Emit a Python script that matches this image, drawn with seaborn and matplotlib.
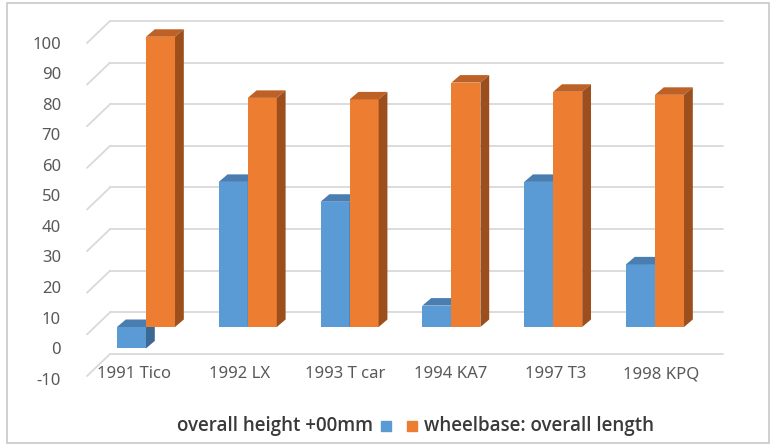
import numpy as np
import pandas as pd
import matplotlib
matplotlib.use("Agg")
import matplotlib.pyplot as plt
from matplotlib.patches import Polygon, Rectangle
import seaborn as sns

# data
models = ['1991 Tico', '1992 LX', '1993 T car', '1994 KA7', '1997 T3', '1998 KPQ']
height_vals = [-7, 47.5, 41, 7, 47.5, 20.5]
wheelbase_vals = [95, 75, 74.5, 80, 77, 76]
series_names = ['overall height +00mm', 'wheelbase: overall length']
y_ticks = [-10, 0, 10, 20, 30, 40, 50, 60, 70, 80, 90, 100]

blue, orange = '#5B9BD5', '#ED7D31'
top_cols = {blue: '#4A7DB0', orange: '#BE6127'}
side_cols = {blue: '#3C6894', orange: '#9C4F1C'}
grid_col = '#D9D9D9'
text_col = '#595959'

df = pd.DataFrame({
    'model': models * 2,
    'value': height_vals + wheelbase_vals,
    'series': [series_names[0]] * len(models) + [series_names[1]] * len(models),
})

sns.set_theme(style='white')
plt.rcParams['font.family'] = ['Noto Sans', 'DejaVu Sans']
plt.rcParams['axes.unicode_minus'] = False

W, H = 776, 448
fig = plt.figure(figsize=(W / 100, H / 100), dpi=100)

# pixel-space layer for the frame, walls and legend
bg = fig.add_axes([0, 0, 1, 1])
bg.set_xlim(0, W)
bg.set_ylim(H, 0)
bg.axis('off')
bg.add_patch(Rectangle((7, 3), 762, 440, fill=False, ec='#C8C8C8', lw=1.2))
for gy in np.linspace(21, 354, 9):
    bg.plot([110, 723], [gy, gy], color=grid_col, lw=1.3, zorder=0)
    bg.plot([87, 110], [gy + 22, gy], color=grid_col, lw=1.3, zorder=0)

# bar axes: category step 101.8 px, 3.055 px per unit, zero at y=327
ax_top, ax_bot, ax_left, ax_right = 10, 400, 87, 740
step, unit, x0, y0 = 101.8, 3.055, 146, 327
ax = fig.add_axes([ax_left / W, 1 - ax_bot / H, (ax_right - ax_left) / W, (ax_bot - ax_top) / H])
ax.patch.set_alpha(0)

sns.barplot(data=df, x='model', y='value', hue='series', palette=[blue, orange],
            width=0.57, saturation=1, linewidth=0, ax=ax, legend=False)
ax.set_xlim((ax_left - x0) / step, (ax_right - x0) / step)
ax.set_ylim((y0 - ax_bot) / unit, (y0 - ax_top) / unit)

# fake 3D depth on each bar
ddx, ddy = 8.8 / step, 7.5 / unit
for p in ax.patches:
    col = matplotlib.colors.to_hex(p.get_facecolor())
    z = 2 if col.lower() == blue.lower() else 3
    p.set_zorder(z)
    xa, w = p.get_x(), p.get_width()
    ya, yb = sorted([p.get_y(), p.get_y() + p.get_height()])
    xb = xa + w
    top = Polygon([(xa, yb), (xa + ddx, yb + ddy), (xb + ddx, yb + ddy), (xb, yb)],
                  closed=True, fc=top_cols[col.upper()], ec='none', zorder=z)
    side = Polygon([(xb, ya), (xb + ddx, ya + ddy), (xb + ddx, yb + ddy), (xb, yb)],
                   closed=True, fc=side_cols[col.upper()], ec='none', zorder=z)
    ax.add_patch(top)
    ax.add_patch(side)

ax.set_xlabel('')
ax.set_ylabel('')
ax.set_yticks([])
for s in ax.spines.values():
    s.set_visible(False)
ax.tick_params(axis='x', length=0, pad=-(ax_bot - 366) * 0.72, labelsize=12, labelcolor=text_col)
for i, lbl in enumerate(ax.get_xticklabels()):
    shift = (-12 + 3.6 * i) / 100
    lbl.set_transform(lbl.get_transform() + matplotlib.transforms.ScaledTranslation(shift, 0, fig.dpi_scale_trans))

# value axis labels sit on the front edge, offset from the bar plane
axl = ax.twinx()
axl.yaxis.tick_left()
axl.set_ylim(ax.get_ylim()[0] + 6.9, ax.get_ylim()[1] + 6.9)
axl.set_yticks(y_ticks)
axl.tick_params(axis='y', length=0, pad=(ax_left - 61) * 0.72, labelsize=12, labelcolor=text_col)
for s in axl.spines.values():
    s.set_visible(False)
axl.grid(False)
ax.grid(False)

# legend as in the reference: text, blue key, orange key, text
leg_y = 426
leg_font = dict(fontsize=13.5, fontweight='semibold', color='#3A3A3A',
                family=['Open Sans', 'Noto Sans', 'DejaVu Sans'])
bg.text(373, leg_y, series_names[0], ha='right', va='center', **leg_font)
bg.add_patch(Rectangle((381, leg_y - 5), 10, 10, color=blue))
bg.add_patch(Rectangle((407, leg_y - 5), 10, 10, color=orange))
bg.text(424, leg_y, series_names[1], ha='left', va='center', **leg_font)

fig.savefig('out.png', dpi=100)
